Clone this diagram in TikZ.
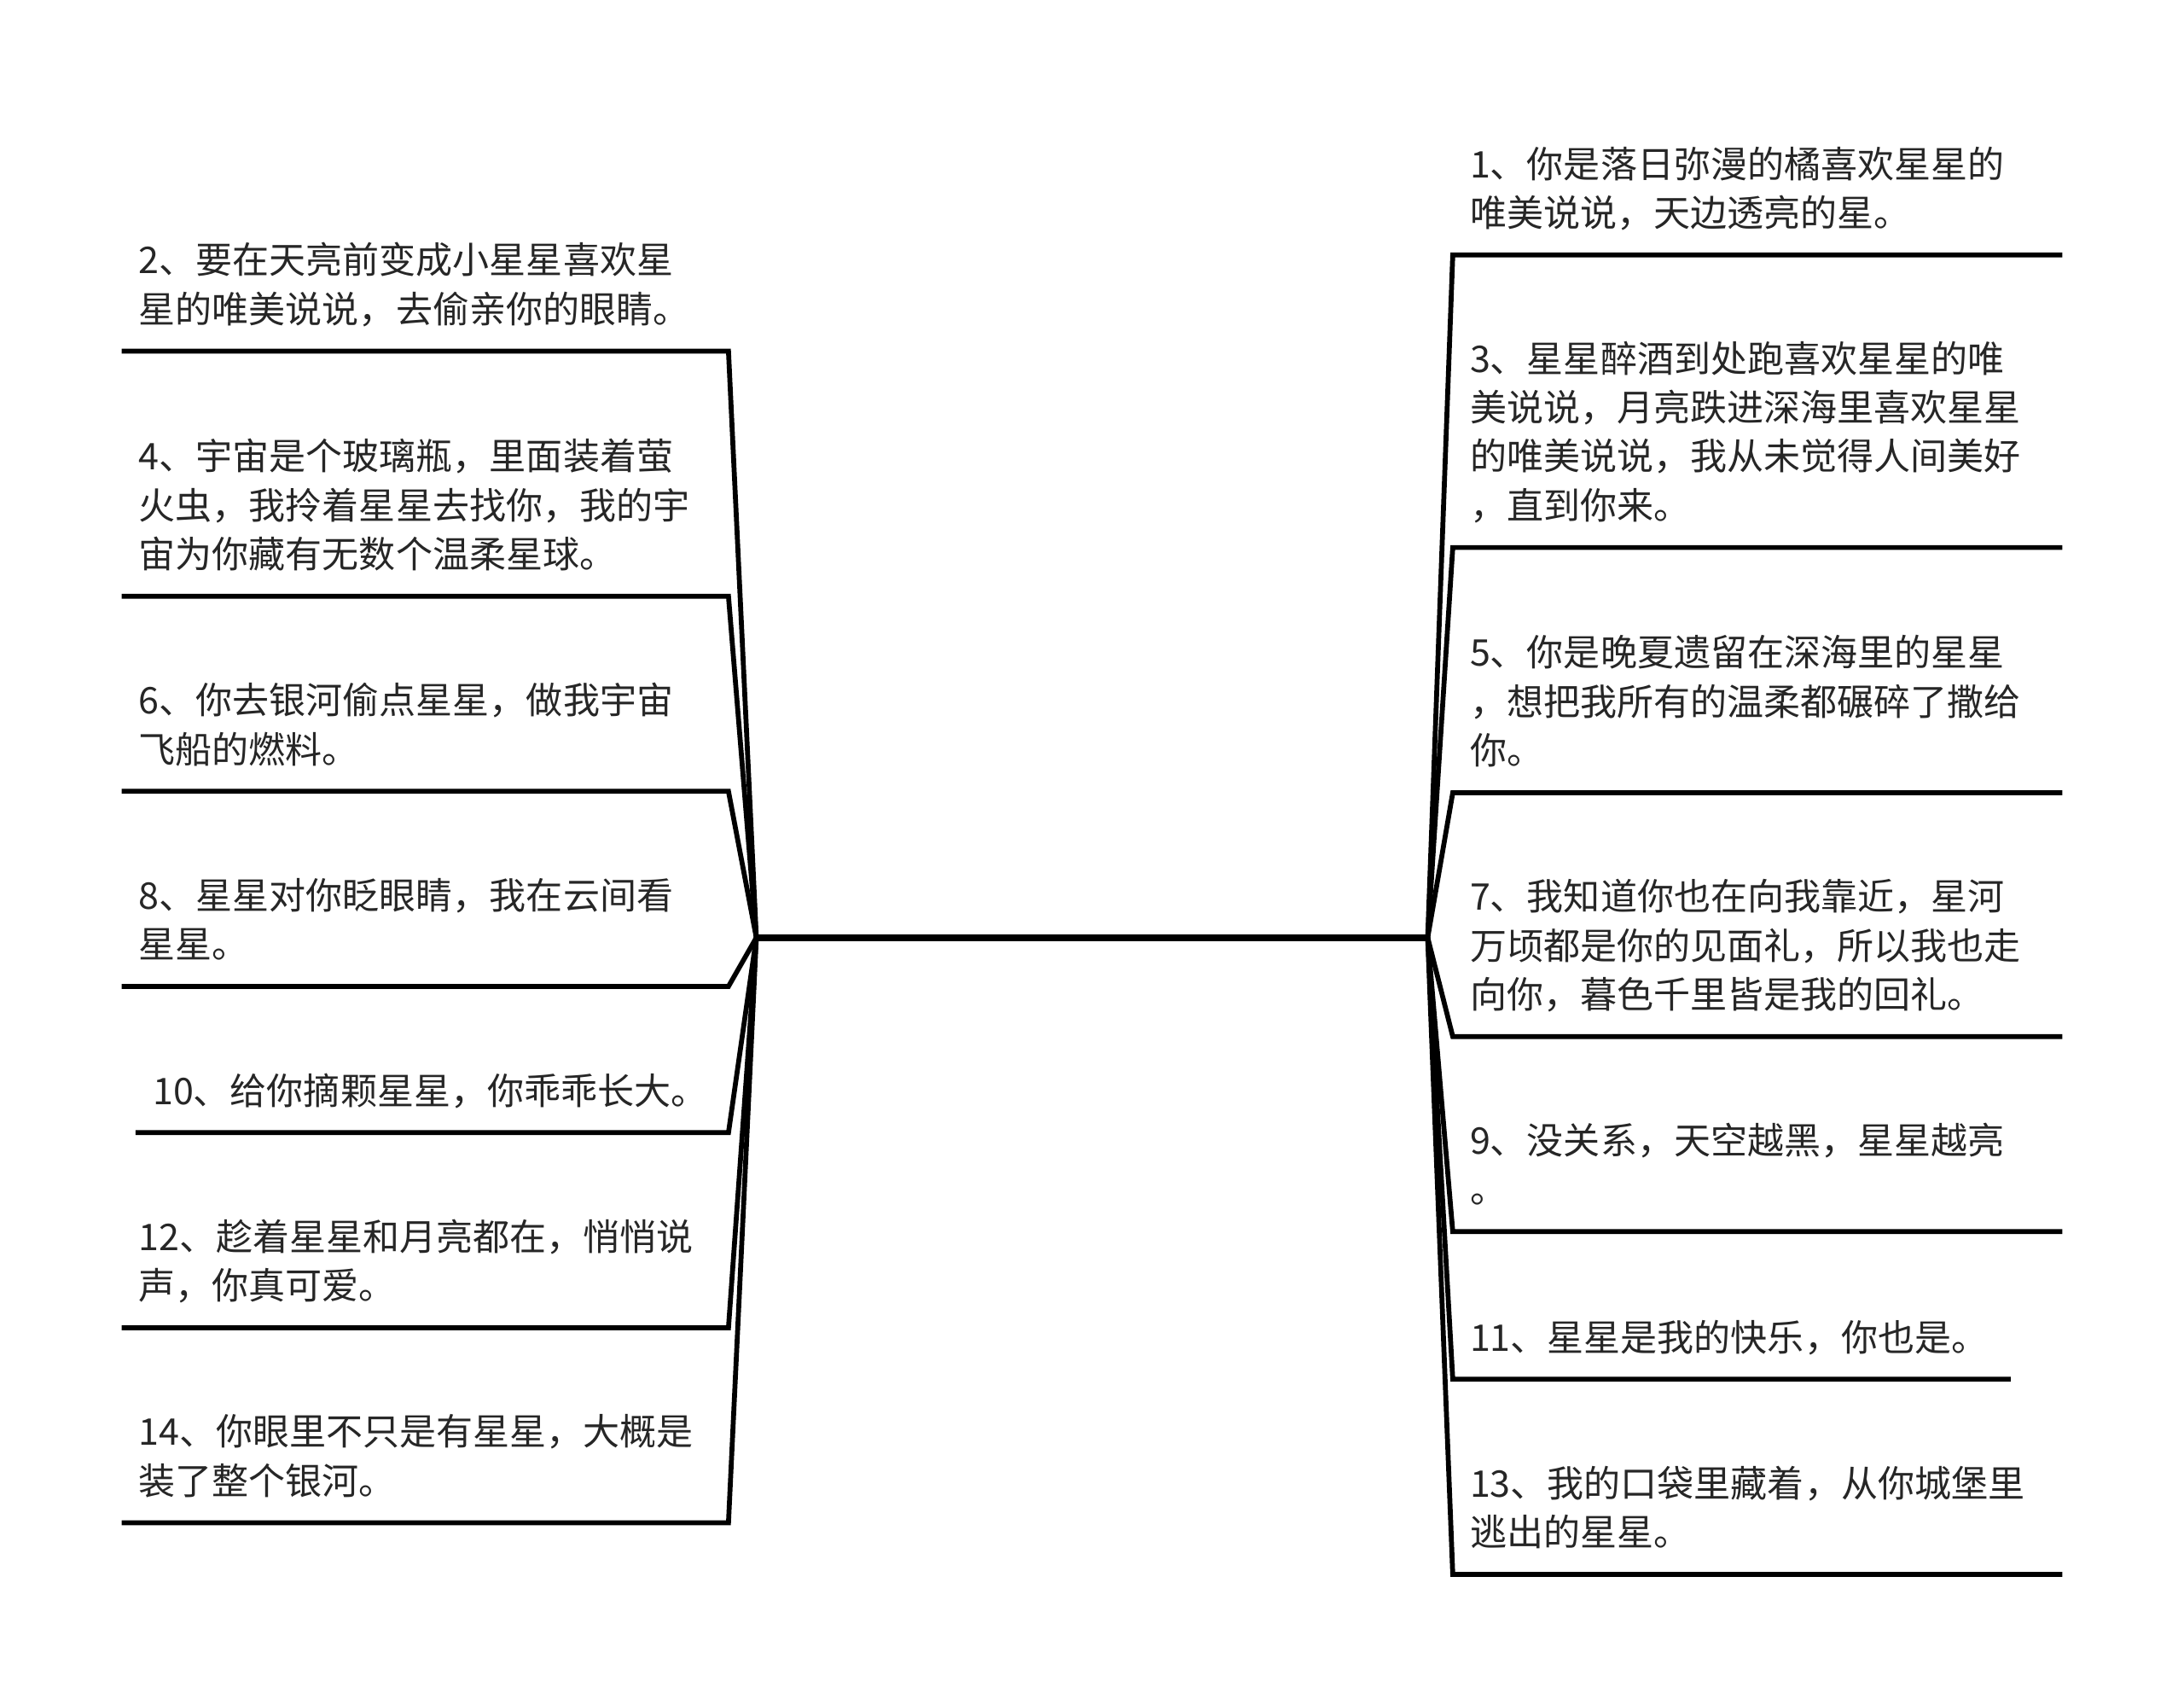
\documentclass[tikz,border=0pt]{standalone}
\usepackage{fontspec}
\newfontfamily\cjk{Noto Sans CJK SC}
\usetikzlibrary{positioning}
\definecolor{textgray}{HTML}{262626}
\tikzset{
  leaf/.style={font=\cjk\fontsize{15pt}{20pt}\selectfont, text=textgray, align=left,
    inner xsep=0.24cm, inner ysep=0.19cm, execute at end node=\strut},
  leafL/.style={leaf, anchor=south east, text width=8.22cm},
  leafR/.style={leaf, anchor=south west, text width=8.26cm},
  branch/.style={line width=2pt, line join=miter},
  trunk/.style={line width=2.8pt}
}

\begin{document}
\begin{tikzpicture}[x=0.02cm, y=-0.02cm]
  \useasboundingbox (0,0) rectangle (1568,1219);

  % Trunk
  \coordinate (rootL) at (543,673);
  \coordinate (rootR) at (1025,673);
  \draw[trunk] (rootL) -- (rootR);

  % Left branches
  \node[leafL] (n2) at (523,252) {2、要在天亮前变成小星星喜欢星\\星的唯美说说，去偷亲你的眼睛。};
  \node[leafL] (n4) at (523,428) {4、宇宙是个玻璃瓶，里面装着萤\\火虫，我拎着星星去找你，我的宇\\宙为你藏有无数个温柔星球。};
  \node[leafL] (n6) at (523,568) {6、你去银河偷点星星，做我宇宙\\飞船的燃料。};
  \node[leafL] (n8) at (523,708) {8、星星对你眨眼睛，我在云间看\\星星。};
  \node[leafL, text width=8.02cm] (n10) at (523,813) {10、给你摘颗星星，你乖乖长大。};
  \node[leafL] (n12) at (523,953) {12、趁着星星和月亮都在，悄悄说\\声，你真可爱。};
  \node[leafL] (n14) at (523,1093) {14、你眼里不只是有星星，大概是\\装了整个银河。};

  % Right branches
  \node[leafR] (n1) at (1043,183) {1、你是落日弥漫的橘喜欢星星的\\唯美说说，天边透亮的星。};
  \node[leafR] (n3) at (1043,393) {3、星星醉酒到处跑喜欢星星的唯\\美说说，月亮跌进深海里喜欢星星\\的唯美说说，我从未觉得人间美好\\，直到你来。};
  \node[leafR] (n5) at (1043,569) {5、你是晚夏遗留在深海里的星星\\，想把我所有的温柔都碾碎了撒给\\你。};
  \node[leafR] (n7) at (1043,744) {7、我知道你也在向我靠近，星河\\万顷都是你的见面礼，所以我也走\\向你，暮色千里皆是我的回礼。};
  \node[leafR] (n9) at (1043,884) {9、没关系，天空越黑，星星越亮\\。};
  \node[leafR, text width=7.52cm] (n11) at (1043,990) {11、星星是我的快乐，你也是。};
  \node[leafR] (n13) at (1043,1130) {13、我的口袋里藏着，从你城堡里\\逃出的星星。};

  % Connectors and underlines
  \foreach \n in {n2,n4,n6,n8,n10,n12,n14}
    \draw[branch] (rootL) -- (\n.south east) -- (\n.south west);
  \foreach \n in {n1,n3,n5,n7,n9,n11,n13}
    \draw[branch] (rootR) -- (\n.south west) -- (\n.south east);
\end{tikzpicture}
\end{document}
